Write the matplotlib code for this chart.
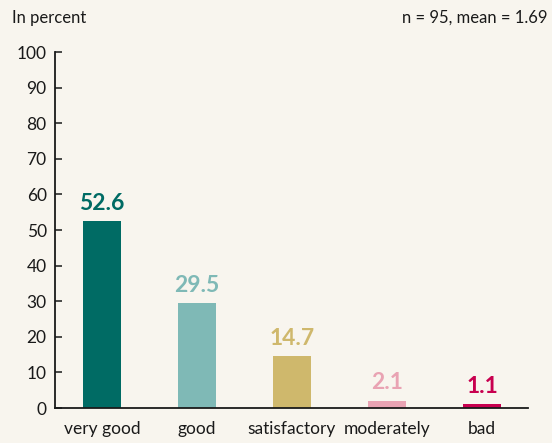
import matplotlib

matplotlib.use("Agg")
import matplotlib.pyplot as plt

categories = ["very good", "good", "satisfactory", "moderately", "bad"]
values = [52.6, 29.5, 14.7, 2.1, 1.1]
value_labels = ["52.6", "29.5", "14.7", "2.1", "1.1"]
colors = ["#006b64", "#7fb9b6", "#cfb86c", "#e9a3b3", "#c8004f"]
y_ticks = [0, 10, 20, 30, 40, 50, 60, 70, 80, 90, 100]

BG = "#f8f5ee"
TEXT = "#1a1a1a"

plt.rcParams["font.family"] = ["Lato", "DejaVu Sans"]

fig = plt.figure(figsize=(5.52, 4.43), dpi=100, facecolor=BG)
ax = fig.add_axes([0.0996, 0.079, 0.857, 0.8036], facecolor=BG)

x = list(range(len(categories)))
ax.bar(x, values, width=0.4, color=colors, zorder=2)

for xi, v, lab, c in zip(x, values, value_labels, colors):
    ax.text(xi, v + 2.0, lab, ha="center", va="bottom", fontsize=16.5,
            fontweight="bold", color=c)

ax.set_xlim(-0.495, 4.485)
ax.set_ylim(0, 100)
ax.set_yticks(y_ticks)
ax.set_xticks(x)
ax.set_xticklabels(categories)

for side in ("top", "right"):
    ax.spines[side].set_visible(False)
for side in ("left", "bottom"):
    ax.spines[side].set_linewidth(1.3)
    ax.spines[side].set_color(TEXT)

ax.tick_params(axis="y", direction="in", length=5, width=1.1, labelsize=12.5,
               colors=TEXT, pad=6)
ax.tick_params(axis="x", length=0, labelsize=12.5, colors=TEXT, pad=9)

fig.text(12 / 552, 1 - 18 / 443, "In percent", ha="left", va="center",
         fontsize=12, color=TEXT)
fig.text(547 / 552, 1 - 18 / 443, "n = 95, mean = 1.69", ha="right",
         va="center", fontsize=12, color=TEXT)

fig.savefig("out.png", dpi=100, facecolor=BG)
